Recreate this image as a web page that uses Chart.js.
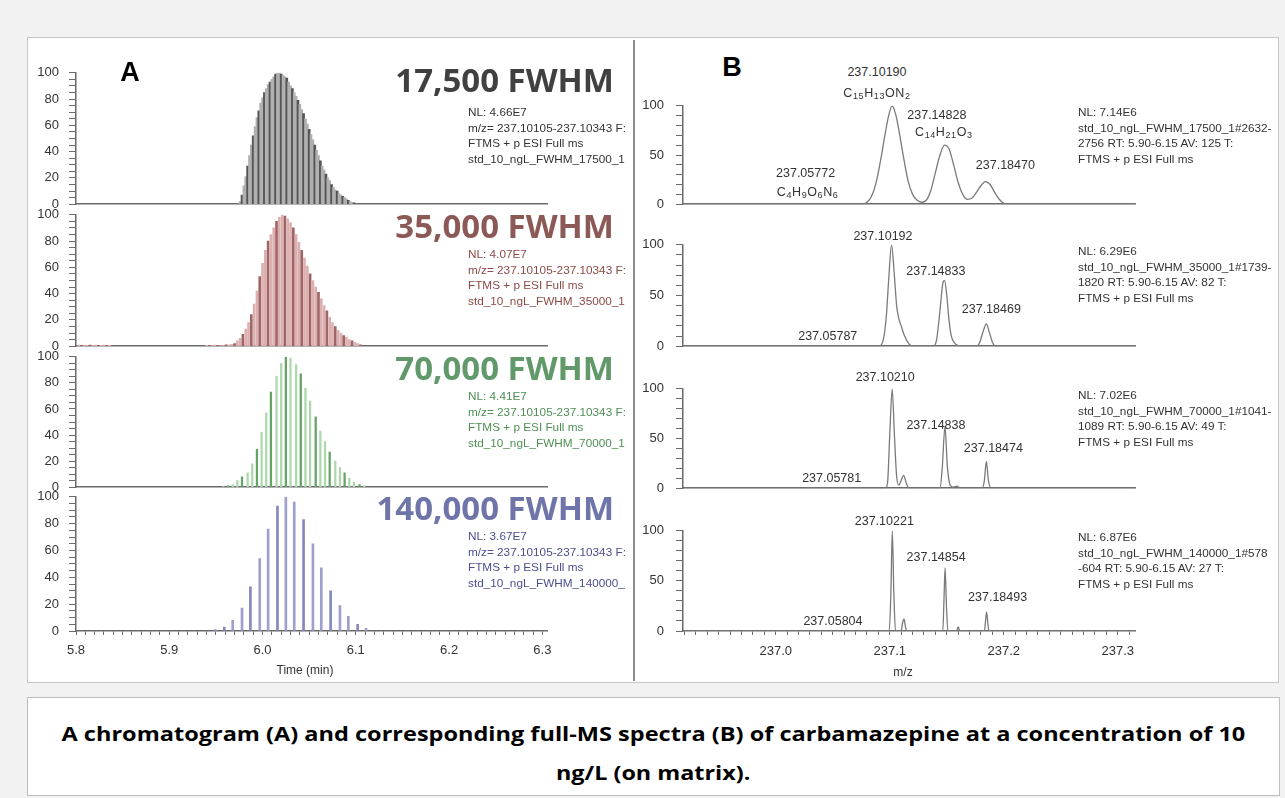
<!DOCTYPE html>
<html>
<head>
<meta charset="utf-8">
<script src="https://cdn.jsdelivr.net/npm/chart.js@4.4.1/dist/chart.umd.min.js"></script>
<style>
  html, body { margin: 0; padding: 0; background: #f2f2f2; }
  #page { position: relative; width: 1285px; height: 798px; overflow: hidden; font-family: "Liberation Sans", Arial, sans-serif; color: #333; }
  #figure { position: absolute; left: 27px; top: 37px; width: 1252px; height: 646px; background: #fff; border: 1px solid #c8c8c8; box-sizing: border-box; }
  #divider { position: absolute; left: 633px; top: 40px; width: 2px; height: 641px; background: #8c8c8c; }
  #caption { position: absolute; left: 27px; top: 697px; width: 1253px; height: 99px; background: #fff; border: 1px solid #bdbdbd; box-sizing: border-box;
             font-family: "Open Sans", sans-serif; font-weight: 700; font-size: 20px; color: #000; line-height: 39px; padding-top: 16px; }
  #caption div { text-align: center; }
  #caption span { display: inline-block; transform-origin: center; }
  canvas { position: absolute; }
  .t { position: absolute; white-space: nowrap; }
  .panel { font-family: "Liberation Sans", Arial, sans-serif; font-weight: 700; font-size: 27px; color: #000; transform: translate(-50%, -50%); }
  .title { font-family: "Open Sans", sans-serif; font-weight: 700; font-size: 33px; transform: translate(-100%, -50%); }
  .info { font-size: 10.5px; line-height: 15.5px; transform: scaleX(1.12); transform-origin: left top; }
  .peak { font-size: 12.5px; color: #333; transform: translate(-50%, -50%); }
  .formula { font-size: 12.5px; color: #333; letter-spacing: 0.6px; transform: translate(-50%, -50%); }
  .formula sub { font-size: 9px; vertical-align: -2px; }
  .axt { font-size: 12px; color: #333; transform: translate(-50%, -50%); }
</style>
</head>
<body>
<div id="page">
  <div id="figure"></div>
  <div id="divider"></div>
  <div id="caption">
    <div><span id="cap1">A chromatogram (A) and corresponding full-MS spectra (B) of carbamazepine at a concentration of 10</span></div>
    <div><span id="cap2">ng/L (on matrix).</span></div>
  </div>
</div>
<script>
// ---------- A: extracted ion chromatograms (time in min, relative intensity) ----------
const chromTime17500 = [5.976, 5.978, 5.980, 5.982, 5.984, 5.986, 5.988, 5.990, 5.992, 5.994, 5.996, 5.998,
  6.000, 6.002, 6.004, 6.006, 6.008, 6.010, 6.012, 6.014, 6.016, 6.018, 6.020, 6.022, 6.024, 6.026, 6.028, 6.030,
  6.032, 6.034, 6.036, 6.038, 6.040, 6.042, 6.044, 6.046, 6.048, 6.050, 6.052, 6.054, 6.056, 6.058, 6.060, 6.062,
  6.064, 6.066, 6.068, 6.070, 6.072, 6.074, 6.076, 6.078, 6.080, 6.082, 6.084, 6.086, 6.088, 6.090, 6.092, 6.094, 6.096, 6.098];
const chromInt17500 = [2, 7, 14, 21, 29, 37, 45, 52, 59, 66, 71, 77,
  81, 85, 88, 91, 93, 95, 97, 99, 100, 100, 99, 98, 97, 96, 93, 90,
  88, 85, 82, 79, 76, 72, 69, 65, 61, 57, 53, 49, 45, 41, 37, 33,
  29, 26, 23, 20, 18, 15, 13, 11, 10, 8, 7, 6, 5, 4, 3, 2, 1, 1];

const chromTime35000 = [5.803, 5.806, 5.809, 5.812, 5.815, 5.818, 5.821, 5.824, 5.827, 5.830, 5.833, 5.836,
  5.940, 5.943, 5.946, 5.949, 5.952, 5.955, 5.958, 5.961, 5.964, 5.967, 5.970, 5.973, 5.976, 5.979, 5.982, 5.985,
  5.988, 5.991, 5.994, 5.997, 6.000, 6.003, 6.006, 6.009, 6.012, 6.015, 6.018, 6.021, 6.024, 6.027, 6.030, 6.033,
  6.036, 6.039, 6.042, 6.045, 6.048, 6.051, 6.054, 6.057, 6.060, 6.063, 6.066, 6.069, 6.072, 6.075, 6.078, 6.081,
  6.084, 6.087, 6.090, 6.093, 6.096, 6.099, 6.102, 6.105];
const chromInt35000 = [0.8, 0.6, 0.8, 0.7, 0.8, 0.6, 0.8, 0.7, 0.6, 0.8, 0.7, 0.6,
  0.6, 0.7, 0.6, 0.8, 0.7, 0.5, 0.5, 1, 1, 1.5, 2, 4, 6, 9, 13, 18,
  24, 32, 42, 53, 63, 73, 80, 85, 90, 95, 98, 100, 99, 97, 94, 90,
  85, 79, 73, 67, 61, 55, 50, 45, 41, 36, 31, 27, 22, 18, 15, 12,
  10, 8, 7, 5, 4, 3, 2, 1];

const chromTime70000 = [5.958, 5.963, 5.968, 5.973, 5.978, 5.984, 5.989, 5.994, 5.999, 6.004, 6.009, 6.015,
  6.020, 6.025, 6.030, 6.036, 6.041, 6.046, 6.051, 6.057, 6.062, 6.067, 6.072, 6.078, 6.083, 6.088, 6.093,
  6.098, 6.104, 6.109];
const chromInt70000 = [0.5, 1, 2, 5, 8, 11, 18, 29, 42, 57, 73, 85,
  95, 100, 99, 94, 87, 76, 66, 54, 43, 35, 27, 20, 15, 11, 7,
  4, 2, 1];

const chromTime140000 = [5.949, 5.959, 5.968, 5.978, 5.987, 5.997, 6.006, 6.016, 6.025, 6.034, 6.044,
  6.054, 6.063, 6.073, 6.083, 6.092, 6.102, 6.111];
const chromInt140000 = [1, 3, 8, 17, 33, 54, 76, 93, 100, 96, 83,
  65, 47, 30, 19, 11, 5, 2];

const chromTitles = ['17,500 FWHM', '35,000 FWHM', '70,000 FWHM', '140,000 FWHM'];
const chromInfo = [
  ['NL: 4.66E7', 'm/z= 237.10105-237.10343 F:', 'FTMS + p ESI Full ms', 'std_10_ngL_FWHM_17500_1'],
  ['NL: 4.07E7', 'm/z= 237.10105-237.10343 F:', 'FTMS + p ESI Full ms', 'std_10_ngL_FWHM_35000_1'],
  ['NL: 4.41E7', 'm/z= 237.10105-237.10343 F:', 'FTMS + p ESI Full ms', 'std_10_ngL_FWHM_70000_1'],
  ['NL: 3.67E7', 'm/z= 237.10105-237.10343 F:', 'FTMS + p ESI Full ms', 'std_10_ngL_FWHM_140000_']
];
const timeTicks = [5.8, 5.9, 6.0, 6.1, 6.2, 6.3];

// ---------- B: full-MS profile spectra (m/z, relative abundance) ----------
const specMz17500 = [236.92, 237.076, 237.080, 237.084, 237.088, 237.092, 237.096, 237.099, 237.102, 237.105,
  237.108, 237.112, 237.116, 237.120, 237.124, 237.128, 237.132, 237.136, 237.140, 237.144, 237.148, 237.152,
  237.156, 237.160, 237.164, 237.168, 237.172, 237.176, 237.180, 237.184, 237.188, 237.192, 237.196, 237.200,
  237.204, 237.315];
const specInt17500 = [0, 0, 2, 8, 22, 45, 72, 90, 100, 92,
  75, 48, 24, 10, 4, 2, 4, 14, 32, 50, 60, 56,
  40, 22, 10, 5, 6, 12, 19, 23, 20, 12, 5, 1,
  0, 0];

const specMz35000 = [236.92, 237.090, 237.094, 237.097, 237.099, 237.1015, 237.104, 237.106, 237.108, 237.110,
  237.113, 237.117, 237.120, 237.138, 237.141, 237.144, 237.1465, 237.148, 237.150, 237.152, 237.154, 237.157,
  237.160, 237.163, 237.176, 237.179, 237.182, 237.1847, 237.187, 237.190, 237.193, 237.315];
const specInt35000 = [0, 0, 5, 30, 65, 100, 70, 40, 27, 20,
  10, 2, 0, 0, 6, 35, 62, 65, 50, 25, 10, 3,
  0.5, 0, 0, 4, 15, 22, 15, 4, 0, 0];

const specMz70000 = [236.92, 237.096, 237.098, 237.100, 237.1021, 237.104, 237.106, 237.108, 237.110, 237.1122,
  237.1145, 237.117, 237.144, 237.146, 237.1484, 237.1505, 237.153, 237.156, 237.159, 237.162, 237.181,
  237.183, 237.1847, 237.1865, 237.189, 237.315];
const specInt70000 = [0, 0, 5, 55, 100, 55, 12, 3, 8, 13,
  5, 0, 0, 20, 62, 22, 3, 1, 2, 0, 0,
  8, 27, 8, 0, 0];

const specMz140000 = [236.92, 237.0995, 237.1010, 237.1022, 237.1035, 237.105, 237.110, 237.1112, 237.1125, 237.1138,
  237.115, 237.1465, 237.1475, 237.1485, 237.1497, 237.151, 237.1585, 237.160, 237.1615, 237.183,
  237.184, 237.1849, 237.186, 237.187, 237.315];
const specInt140000 = [0, 0, 40, 100, 40, 0, 0, 8, 12, 4,
  0, 0, 30, 63, 25, 0, 0, 4, 0, 0,
  10, 19, 8, 0, 0];

const peakMz17500 = [237.05772, 237.10190, 237.14828, 237.18470];
const peakMz35000 = [237.05787, 237.10192, 237.14833, 237.18469];
const peakMz70000 = [237.05781, 237.10210, 237.14838, 237.18474];
const peakMz140000 = [237.05804, 237.10221, 237.14854, 237.18493];
const formulas17500 = ['C<sub>4</sub>H<sub>9</sub>O<sub>6</sub>N<sub>6</sub>', 'C<sub>15</sub>H<sub>13</sub>ON<sub>2</sub>', 'C<sub>14</sub>H<sub>21</sub>O<sub>3</sub>'];
const specInfo = [
  ['NL: 7.14E6', 'std_10_ngL_FWHM_17500_1#2632-', '2756  RT: 5.90-6.15  AV: 125 T:', 'FTMS + p ESI Full ms'],
  ['NL: 6.29E6', 'std_10_ngL_FWHM_35000_1#1739-', '1820  RT: 5.90-6.15  AV: 82 T:', 'FTMS + p ESI Full ms'],
  ['NL: 7.02E6', 'std_10_ngL_FWHM_70000_1#1041-', '1089  RT: 5.90-6.15  AV: 49 T:', 'FTMS + p ESI Full ms'],
  ['NL: 6.87E6', 'std_10_ngL_FWHM_140000_1#578', '-604  RT: 5.90-6.15  AV: 27 T:', 'FTMS + p ESI Full ms']
];
const mzTicks = [237.0, 237.1, 237.2, 237.3];

// ---------- layout / style ----------
const page = document.getElementById('page');
const axisColor = '#6a6a6a';
const tickColor = '#333';
Chart.defaults.font.family = '"Liberation Sans", Arial, sans-serif';

// wanted plot area: top (value 100) and bottom (value 0), page pixels
const chromLayout = [
    { top: 73, bottom: 204, title: '#404040', info: '#333', light: '#b0b0b0', dark: '#555555', bar: 2 },
    { top: 215, bottom: 346, title: '#8c5a56', info: '#8c4a48', light: '#dcb0b0', dark: '#a06464', bar: 2 },
    { top: 357, bottom: 487, title: '#62996b', info: '#4f8f55', light: '#acd8ac', dark: '#64a266', bar: 1.6 },
    { top: 497, bottom: 631, title: '#6f75a8', info: '#4a4f8e', light: '#9d9fcc', dark: '#8587bd', bar: 2 }
];
const specLayout = [
    { top: 106, bottom: 204 }, { top: 245, bottom: 346 }, { top: 389, bottom: 488 }, { top: 531, bottom: 631 }
];
// label offsets from peak apex pixel (dx) and from plot top (dy), order as peakMz arrays
const peakOffsets = [
    [[-36, 67], [-15, -34], [-8, 9], [19, 59]],
    [[-14, 91], [-9, -9], [-9, 26], [5, 64]],
    [[-10, 89], [-7, -12], [-9, 36], [7, 59]],
    [[-9, 90], [-8, -10], [-9, 26], [11, 66]]
];
const formulaOffsets = [[-34, 86], [-15, -13], [-1, 26]];

function isOn(v, list) {
    return list.some(t => Math.abs(v - t) < 1e-6);
}

function addText(cls, html, x, y, color) {
    const el = document.createElement('div');
    el.className = 't ' + cls;
    el.innerHTML = html;
    el.style.left = x + 'px';
    el.style.top = y + 'px';
    if (color) el.style.color = color;
    page.appendChild(el);
    return el;
}

function makeCanvas(left, top, w, h) {
    const c = document.createElement('canvas');
    c.width = w;
    c.height = h;
    c.style.left = left + 'px';
    c.style.top = top + 'px';
    page.appendChild(c);
    return c;
}

// move / resize the canvas so that the chart area lands on the wanted rows
function fitArea(chart, canvas, wantTop, wantBottom) {
    for (let pass = 0; pass < 3; pass++) {
        const a = chart.chartArea;
        const h = Math.round(a.top + (wantBottom - wantTop) + (chart.height - a.bottom));
        if (h !== chart.height) chart.resize(chart.width, h);
    }
    canvas.style.top = (wantTop - chart.chartArea.top) + 'px';
}

function axisOptions(opts) {
    return {
        x: {
            type: 'linear', min: opts.xMin, max: opts.xMax, offset: false,
            grid: { display: opts.bottom, offset: false, drawOnChartArea: false, tickLength: 4, color: axisColor, tickWidth: 1 },
            border: { display: true, color: axisColor, width: 1.5 },
            ticks: {
                display: opts.bottom, stepSize: 0.01, autoSkip: false, includeBounds: false, maxRotation: 0, padding: opts.xPad,
                font: { size: 13 }, color: tickColor,
                callback: v => isOn(v, opts.xLabels) ? v.toFixed(1) : ''
            },
            afterFit: s => { s.height = opts.bottom ? 30 : 0; }
        },
        y: {
            min: 0, max: 100,
            grid: { drawOnChartArea: false, tickLength: 7, color: axisColor },
            border: { display: true, color: axisColor, width: 1.5 },
            ticks: {
                stepSize: opts.yStep, autoSkip: false, padding: opts.yPad,
                font: { size: 13 }, color: tickColor,
                callback: v => v % opts.yMajor === 0 ? v : ''
            },
            afterFit: s => { s.width = opts.yWidth; }
        }
    };
}

// ---------- A ----------
const chromSets = [
    [chromTime17500, chromInt17500], [chromTime35000, chromInt35000],
    [chromTime70000, chromInt70000], [chromTime140000, chromInt140000]
];
chromSets.forEach(([times, ints], i) => {
    const L = chromLayout[i];
    const bottom = i === 3;
    const canvas = makeCanvas(20, L.top - 10, 540, (L.bottom - L.top) + (bottom ? 42 : 16));
    const chart = new Chart(canvas.getContext('2d'), {
        type: 'bar',
        data: {
            datasets: [{
                data: times.map((t, k) => ({ x: t, y: ints[k] })),
                backgroundColor: times.map((t, k) => k % 3 === 1 ? L.dark : L.light),
                barThickness: L.bar
            }]
        },
        options: {
            responsive: false, maintainAspectRatio: false, animation: false,
            layout: { padding: { top: 10, right: 13, bottom: bottom ? 0 : 3, left: 0 } },
            plugins: { legend: { display: false }, tooltip: { enabled: false } },
            scales: axisOptions({ xMin: 5.8, xMax: 6.305, bottom, xLabels: timeTicks, xPad: 8, yStep: 5, yMajor: 20, yPad: 10, yWidth: 56 })
        }
    });
    fitArea(chart, canvas, L.top, L.bottom);
    addText('title', chromTitles[i], 614, L.top + (i === 0 ? 6 : 10), L.title);
    addText('info', chromInfo[i].join('<br>'), 468, L.top + 32, L.info);
});
addText('panel', 'A', 130, 72);
addText('axt', 'Time (min)', 305, 670);

// ---------- B ----------
const specSets = [
    [specMz17500, specInt17500, peakMz17500], [specMz35000, specInt35000, peakMz35000],
    [specMz70000, specInt70000, peakMz70000], [specMz140000, specInt140000, peakMz140000]
];
specSets.forEach(([mz, ints, peaks], i) => {
    const L = specLayout[i];
    const bottom = i === 3;
    const cLeft = 640;
    const canvas = makeCanvas(cLeft, L.top - 10, 505, (L.bottom - L.top) + (bottom ? 42 : 16));
    const chart = new Chart(canvas.getContext('2d'), {
        type: 'line',
        data: {
            datasets: [{
                data: mz.map((m, k) => ({ x: m, y: ints[k] })),
                borderColor: '#7a7a7a',
                borderWidth: 1.3,
                pointRadius: 0,
                cubicInterpolationMode: 'monotone',
                fill: false
            }]
        },
        options: {
            responsive: false, maintainAspectRatio: false, animation: false,
            layout: { padding: { top: 10, right: 10, bottom: bottom ? 0 : 3, left: 0 } },
            plugins: { legend: { display: false }, tooltip: { enabled: false } },
            scales: axisOptions({ xMin: 236.9186, xMax: 237.3151, bottom, xLabels: mzTicks, xPad: 9, yStep: 10, yMajor: 50, yPad: 12, yWidth: 43 })
        }
    });
    fitArea(chart, canvas, L.top, L.bottom);
    const xs = chart.scales.x;
    peaks.forEach((p, k) => {
        const [dx, dy] = peakOffsets[i][k];
        addText('peak', p.toFixed(5), cLeft + xs.getPixelForValue(p) + dx, L.top + dy);
        if (i === 0 && k < 3) {
            const [fx, fy] = formulaOffsets[k];
            addText('formula', formulas17500[k], cLeft + xs.getPixelForValue(p) + fx, L.top + fy);
        }
    });
    addText('info', specInfo[i].join('<br>'), 1078, L.top - 1);
});
addText('panel', 'B', 732, 67);
addText('axt', 'm/z', 903, 672);

// stretch caption lines to the widths in the figure
[['cap1', 1184], ['cap2', 194]].forEach(([id, w]) => {
    const s = document.getElementById(id);
    s.style.transform = 'scaleX(' + (w / s.offsetWidth) + ')';
});
</script>
</body>
</html>
